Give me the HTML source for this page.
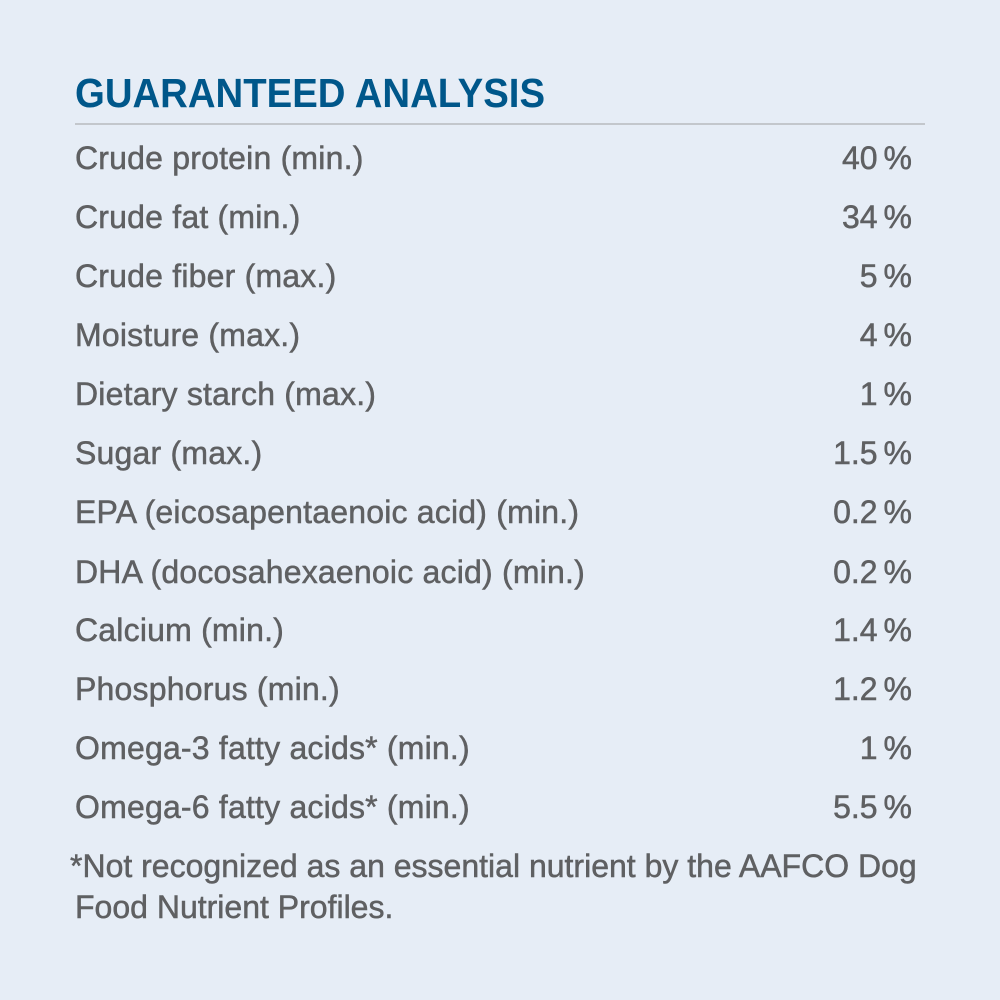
<!DOCTYPE html>
<html><head><style>
body{margin:0;width:1000px;height:1000px;background:#e6edf6;position:relative;overflow:hidden;font-family:"Liberation Sans",sans-serif;}
.t{position:absolute;left:75px;top:70px;font-size:41px;font-weight:bold;color:#00578a;white-space:nowrap;transform-origin:0 0;transform:scaleX(0.935);}
.hr{position:absolute;left:75px;top:123px;width:850px;height:2px;background:#c3c7cc;}
.r{position:absolute;left:75px;width:837px;height:40px;line-height:40px;font-size:32px;color:#5f6062;-webkit-text-stroke:0.5px #5f6062;white-space:nowrap;letter-spacing:0.2px;}
.r span{position:absolute;right:0;top:0;letter-spacing:0;}
.r span b{font-weight:normal;display:inline-block;width:6px;}
.f{position:absolute;left:70px;font-size:32px;color:#5f6062;-webkit-text-stroke:0.5px #5f6062;line-height:41px;top:846px;white-space:nowrap;}
.f i{font-style:normal;padding-left:5px;}
</style></head><body>
<div class="t">GUARANTEED ANALYSIS</div>
<div class="hr"></div>
<div class="r" style="top:138px">Crude protein (min.)<span>40<b></b>%</span></div>
<div class="r" style="top:197px">Crude fat (min.)<span>34<b></b>%</span></div>
<div class="r" style="top:256px">Crude fiber (max.)<span>5<b></b>%</span></div>
<div class="r" style="top:315px">Moisture (max.)<span>4<b></b>%</span></div>
<div class="r" style="top:374px">Dietary starch (max.)<span>1<b></b>%</span></div>
<div class="r" style="top:433px">Sugar (max.)<span>1.5<b></b>%</span></div>
<div class="r" style="top:492px">EPA (eicosapentaenoic acid) (min.)<span>0.2<b></b>%</span></div>
<div class="r" style="top:552px">DHA (docosahexaenoic acid) (min.)<span>0.2<b></b>%</span></div>
<div class="r" style="top:610px">Calcium (min.)<span>1.4<b></b>%</span></div>
<div class="r" style="top:669px">Phosphorus (min.)<span>1.2<b></b>%</span></div>
<div class="r" style="top:728px">Omega-3 fatty acids* (min.)<span>1<b></b>%</span></div>
<div class="r" style="top:787px">Omega-6 fatty acids* (min.)<span>5.5<b></b>%</span></div>
<div class="f">*Not recognized as an essential nutrient by the AAFCO Dog<br><i>Food Nutrient Profiles.</i></div>
</body></html>
